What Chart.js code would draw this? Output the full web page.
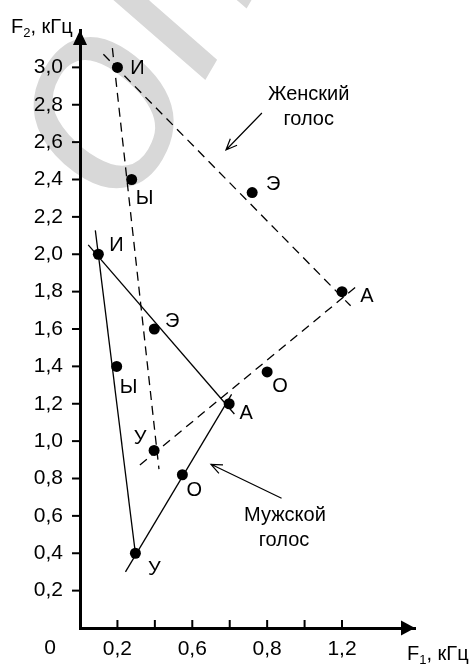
<!DOCTYPE html>
<html>
<head>
<meta charset="utf-8">
<script src="https://cdn.jsdelivr.net/npm/chart.js@4/dist/chart.umd.min.js"></script>
<style>
  html, body { margin: 0; padding: 0; background: #fff; }
  #wrap { width: 473px; height: 666px; }
</style>
</head>
<body>
<div id="wrap"><canvas id="chart"></canvas></div>
<script>
// гласные (в порядке И, Ы, Э, А, О, У)
const vowels = ['И', 'Ы', 'Э', 'А', 'О', 'У'];

// женский голос, кГц
const femaleF1 = [0.20, 0.276, 0.92, 1.40, 1.00, 0.396];
const femaleF2 = [3.00, 2.40, 2.33, 1.80, 1.37, 0.95];

// мужской голос, кГц
const maleF1 = [0.098, 0.196, 0.397, 0.797, 0.547, 0.296];
const maleF2 = [2.00, 1.40, 1.60, 1.20, 0.82, 0.40];

// отрезки треугольников [[x1, y1], [x2, y2]]
const femaleLines = [
    [[0.125, 3.07], [1.446, 1.724]],
    [[0.32, 0.872], [1.474, 1.825]],
    [[0.173, 3.103], [0.422, 0.85]]
];
const maleLines = [
    [[0.044, 2.05], [0.825, 1.145]],
    [[0.082, 2.128], [0.297, 0.39]],
    [[0.243, 0.30], [0.81, 1.25]]
];

// подписи осей
const yTickValues = [0.2, 0.4, 0.6, 0.8, 1.0, 1.2, 1.4, 1.6, 1.8, 2.0, 2.2, 2.4, 2.6, 2.8, 3.0];
const yTickLabels = ['0,2', '0,4', '0,6', '0,8', '1,0', '1,2', '1,4', '1,6', '1,8', '2,0', '2,2', '2,4', '2,6', '2,8', '3,0'];
const xTickMarks = [0.2, 0.4, 0.6, 0.8, 1.0, 1.2, 1.4];
const xTickValues = [0.2, 0.6, 1.0, 1.4];
const xTickLabels = ['0,2', '0,6', '0,8', '1,2'];

// выноски
const notes = [
    { lines: ['Женский', 'голос'], at: [[1.222, 2.825], [1.222, 2.691]], from: [0.972, 2.756], to: [0.780, 2.558] },
    { lines: ['Мужской', 'голос'], at: [[1.095, 0.572], [1.090, 0.439]], from: [1.077, 0.694], to: [0.700, 0.876] }
];

// смещения подписей точек, px
const femaleLabelOffset = [[20, 1], [13, 19], [21, -8], [25, 5], [13, 15], [-14, -12]];
const maleLabelOffset = [[18, -9], [12, 21], [18, -8], [17, 10], [12, 16], [19, 16]];

const FONT = 'Liberation Sans, Arial, sans-serif';

const findLabel = (vals, labels, v) => {
    const k = vals.findIndex(t => Math.abs(t - v) < 1e-6);
    return k >= 0 ? labels[k] : null;
};

const lineSets = (segs, dashed) => segs.map(s => ({
    data: s.map(p => ({ x: p[0], y: p[1] })),
    showLine: true,
    borderColor: '#000',
    borderWidth: 1.3,
    borderDash: dashed ? [9, 6] : [],
    pointRadius: 0,
    fill: false
}));

const pointSet = (xs, ys) => ({
    data: xs.map((x, i) => ({ x: x, y: ys[i] })),
    backgroundColor: '#000',
    borderWidth: 0,
    pointRadius: 5.5,
    showLine: false
});

const decor = {
    id: 'decor',
    beforeDraw(chart) {
        // водяной знак
        const ctx = chart.ctx;
        ctx.save();
        ctx.translate(128, 214);
        ctx.rotate(-60 * Math.PI / 180);
        ctx.font = 'italic 270px ' + FONT;
        ctx.fillStyle = '#d8d8d8';
        ctx.fillText('omo', 0, 0);
        ctx.restore();
    },
    afterDraw(chart) {
        const ctx = chart.ctx;
        const xs = chart.scales.x, ys = chart.scales.y;
        const a = chart.chartArea;
        const px = v => xs.getPixelForValue(v), py = v => ys.getPixelForValue(v);
        ctx.save();
        ctx.fillStyle = '#000';
        ctx.strokeStyle = '#000';

        // стрелки осей
        ctx.beginPath();
        ctx.moveTo(a.left, a.top);
        ctx.lineTo(a.left - 7, a.top + 15);
        ctx.lineTo(a.left + 7, a.top + 15);
        ctx.closePath();
        ctx.fill();
        ctx.beginPath();
        ctx.moveTo(a.right, a.bottom);
        ctx.lineTo(a.right - 14, a.bottom - 7.5);
        ctx.lineTo(a.right - 14, a.bottom + 7.5);
        ctx.closePath();
        ctx.fill();

        // засечки осей
        ctx.lineWidth = 2;
        xTickMarks.forEach(v => {
            ctx.beginPath();
            ctx.moveTo(px(v), a.bottom);
            ctx.lineTo(px(v), a.bottom - 8);
            ctx.stroke();
        });
        yTickValues.forEach(v => {
            ctx.beginPath();
            ctx.moveTo(a.left, py(v));
            ctx.lineTo(a.left - 8, py(v));
            ctx.stroke();
        });

        // ноль и названия осей
        ctx.font = '21px ' + FONT;
        ctx.textAlign = 'center';
        ctx.textBaseline = 'alphabetic';
        ctx.fillText('0', 50, 654);

        const axisTitle = (x, y, sub) => {
            ctx.textAlign = 'left';
            ctx.font = '20px ' + FONT;
            ctx.fillText('F', x, y);
            let w = ctx.measureText('F').width;
            ctx.font = '13px ' + FONT;
            ctx.fillText(sub, x + w, y + 4);
            w += ctx.measureText(sub).width;
            ctx.font = '20px ' + FONT;
            ctx.fillText(', кГц', x + w, y);
        };
        axisTitle(11, 33, '2');
        axisTitle(407, 660, '1');

        // подписи гласных
        ctx.font = '20px ' + FONT;
        ctx.textAlign = 'center';
        ctx.textBaseline = 'middle';
        vowels.forEach((v, i) => {
            ctx.fillText(v, px(femaleF1[i]) + femaleLabelOffset[i][0], py(femaleF2[i]) + femaleLabelOffset[i][1]);
            ctx.fillText(v, px(maleF1[i]) + maleLabelOffset[i][0], py(maleF2[i]) + maleLabelOffset[i][1]);
        });

        // выноски
        ctx.textBaseline = 'alphabetic';
        ctx.lineWidth = 1.2;
        notes.forEach(n => {
            n.lines.forEach((t, k) => ctx.fillText(t, px(n.at[k][0]), py(n.at[k][1])));
            const x1 = px(n.from[0]), y1 = py(n.from[1]);
            const x2 = px(n.to[0]), y2 = py(n.to[1]);
            const ang = Math.atan2(y2 - y1, x2 - x1);
            ctx.beginPath();
            ctx.moveTo(x1, y1);
            ctx.lineTo(x2, y2);
            ctx.moveTo(x2 - 12 * Math.cos(ang - 0.4), y2 - 12 * Math.sin(ang - 0.4));
            ctx.lineTo(x2, y2);
            ctx.lineTo(x2 - 12 * Math.cos(ang + 0.4), y2 - 12 * Math.sin(ang + 0.4));
            ctx.stroke();
        });
        ctx.restore();
    }
};

new Chart(document.getElementById('chart'), {
    type: 'scatter',
    data: {
        datasets: [
            ...lineSets(femaleLines, true),
            ...lineSets(maleLines, false),
            pointSet(femaleF1, femaleF2),
            pointSet(maleF1, maleF2)
        ]
    },
    options: {
        responsive: true, maintainAspectRatio: false,
        animation: false,
        layout: { padding: { top: 30, right: 58, left: 0, bottom: 0 } },
        plugins: { legend: { display: false }, tooltip: { enabled: false } },
        scales: {
            x: {
                type: 'linear', min: 0, max: 1.79,
                grid: { display: false, drawTicks: false },
                border: { color: '#000', width: 3 },
                ticks: {
                    stepSize: 0.2, autoSkip: false, maxRotation: 0, padding: 9,
                    color: '#000', font: { family: FONT, size: 21 },
                    callback: v => findLabel(xTickValues, xTickLabels, v)
                },
                afterFit: s => { s.height = 38; }
            },
            y: {
                type: 'linear', min: 0, max: 3.2,
                grid: { display: false, drawTicks: false },
                border: { color: '#000', width: 3 },
                ticks: {
                    stepSize: 0.2, autoSkip: false, padding: 17,
                    color: '#000', font: { family: FONT, size: 21 },
                    callback: v => findLabel(yTickValues, yTickLabels, v)
                },
                afterFit: s => { s.width = 80; }
            }
        }
    },
    plugins: [decor]
});
</script>
</body>
</html>
